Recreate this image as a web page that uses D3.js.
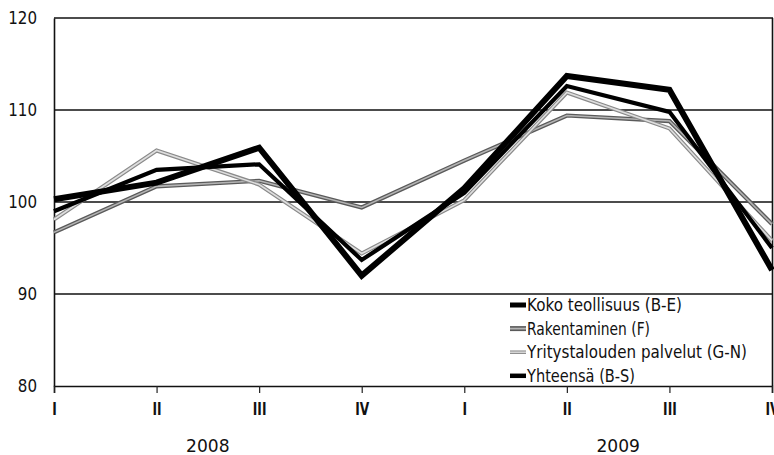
<!DOCTYPE html>
<html><head><meta charset="utf-8">
<script src="https://cdn.jsdelivr.net/npm/d3@7"></script>
<style>body{margin:0;background:#fff}svg{display:block}text{font-family:"DejaVu Sans",sans-serif;fill:#111}</style>
</head><body><svg id="c" width="774" height="455"></svg>
<script>
const quarters = ["I","II","III","IV","I","II","III","IV"];
const years = ["2008","2009"];
const yTicks = [80,90,100,110,120];
const kokoTeollisuus = [100.3,102.1,105.9,92.0,101.5,113.7,112.2,92.6];
const rakentaminen = [96.7,101.7,102.3,99.4,104.5,109.4,108.8,97.6];
const palvelut = [98.1,105.6,101.9,94.4,100.2,111.9,108.0,95.8];
const yhteensa = [99.0,103.5,104.1,93.7,101.0,112.6,109.8,95.0];
const seriesNames = ["Koko teollisuus (B-E)","Rakentaminen (F)","Yritystalouden palvelut (G-N)","Yhteensä (B-S)"];

// layout: rendered text widths of the condensed legend font
const legendTextWidths = [155, 123, 220, 108];

const FONT = '"DejaVu Sans",sans-serif';
const svg = d3.select("#c");
const L=54, R=772, T=18, B=386;
const idx = quarters.map((q,i)=>i);
const x = d3.scalePoint().domain(idx).range([L,R]);
const y = d3.scaleLinear().domain([80,120]).range([B,T]);

function squeeze(sel, k){
  sel.each(function(){
    const w = this.getComputedTextLength();
    d3.select(this).attr("textLength", w*k).attr("lengthAdjust","spacingAndGlyphs");
  });
}

// gridlines
svg.append("g").selectAll("line").data([90,100,110]).join("line")
  .attr("x1",L).attr("x2",R).attr("y1",d=>y(d)).attr("y2",d=>y(d))
  .attr("stroke","#111").attr("stroke-width",1.4);
// border
svg.append("line").attr("x1",L).attr("x2",R+1).attr("y1",T).attr("y2",T).attr("stroke","#111").attr("stroke-width",1.6);
svg.append("line").attr("x1",R+0.5).attr("x2",R+0.5).attr("y1",T).attr("y2",B).attr("stroke","#111").attr("stroke-width",1.6);

// y axis
const ya = svg.append("g").attr("transform",`translate(${L},0)`)
  .call(d3.axisLeft(y).tickValues(yTicks).tickSize(0).tickPadding(17).tickFormat(d3.format("d")));
ya.select(".domain").attr("stroke","#111").attr("stroke-width",1.6);
ya.selectAll("text").attr("font-size",18).style("font-family",FONT).attr("fill","#111");
squeeze(ya.selectAll("text"), 0.84);

// x axis
const xa = svg.append("g").attr("transform",`translate(0,${B})`)
  .call(d3.axisBottom(x).tickSize(7).tickPadding(10).tickFormat(i=>quarters[i]));
xa.select(".domain").attr("stroke","#111").attr("stroke-width",1.6);
xa.selectAll(".tick line").attr("stroke","#222").attr("stroke-width",1.2);
xa.selectAll("text").attr("font-size",17).style("font-family",FONT).attr("font-weight","bold").attr("fill","#111");
squeeze(xa.selectAll("text"), 0.72);

// year labels
const yl = svg.append("g").selectAll("text").data(years).join("text")
  .attr("x",(d,i)=>(x(i*4)+x(i*4+3))/2).attr("y",452)
  .attr("text-anchor","middle").attr("font-size",18).text(d=>d);
squeeze(yl, 0.95);

const line = d3.line().x((d,i)=>x(i)).y(d=>y(d));
const styles = [
  {data:rakentaminen, layers:[["#5a5a5a",4.2],["#b4b4b4",1.6]]},
  {data:palvelut, layers:[["#8a8a8a",4],["#dedede",1.6]]},
  {data:yhteensa, layers:[["#000",4.2]]},
  {data:kokoTeollisuus, layers:[["#000",6]]}
];
const lg = svg.append("g");
styles.forEach(s=>{
  s.layers.forEach(([c,w])=>{
    lg.append("path").datum(s.data).attr("d",line).attr("fill","none")
      .attr("stroke",c).attr("stroke-width",w).attr("stroke-linejoin","miter");
  });
});

// legend
const legendStyles = [
  [["#000",5]],
  [["#5a5a5a",5],["#b4b4b4",1.8]],
  [["#8a8a8a",3.5],["#dedede",1.4]],
  [["#000",4.5]]
];
const leg = svg.append("g");
seriesNames.forEach((n,i)=>{
  const base = 311 + i*23.6;
  const yy = base - 6;
  legendStyles[i].forEach(([c,w])=>{
    leg.append("line").attr("x1",510).attr("x2",526).attr("y1",yy).attr("y2",yy).attr("stroke",c).attr("stroke-width",w);
  });
  leg.append("text").attr("x",527).attr("y",base).attr("font-size",17.5)
    .attr("textLength",legendTextWidths[i]).attr("lengthAdjust","spacingAndGlyphs").text(n);
});
</script></body></html>
